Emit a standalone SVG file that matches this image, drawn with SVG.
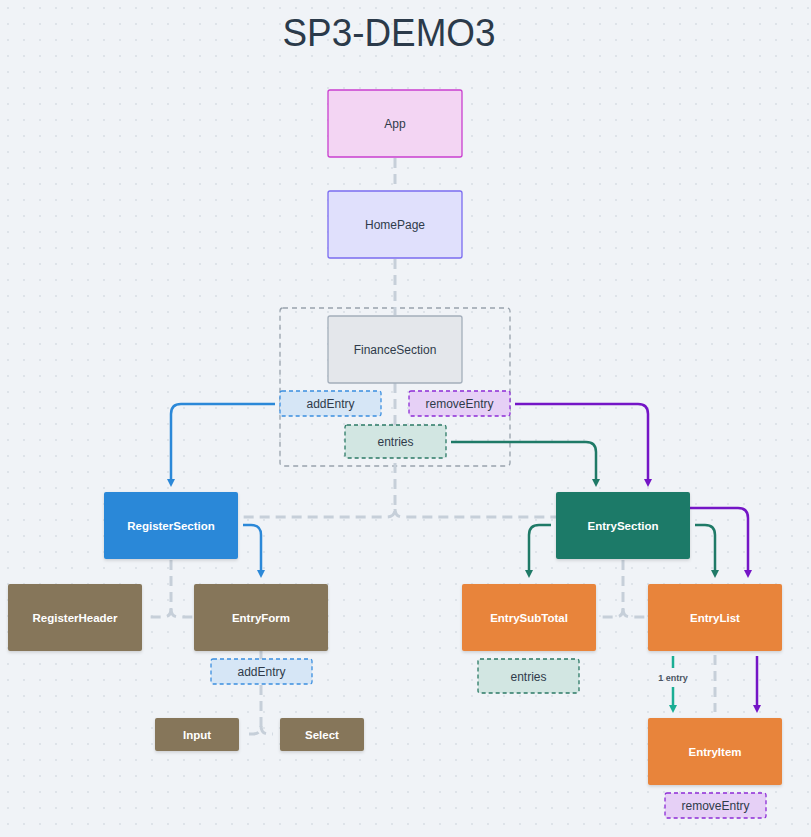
<svg xmlns="http://www.w3.org/2000/svg" width="811" height="837" viewBox="0 0 811 837">
<style>
.t{font-family:"Liberation Sans",Arial,sans-serif;font-size:12px;fill:#2f3b4a;text-anchor:middle;dominant-baseline:central}
.w{font-family:"Liberation Sans",Arial,sans-serif;font-size:11.5px;font-weight:bold;fill:#ffffff;text-anchor:middle;dominant-baseline:central}
.h{fill:none;stroke:#c6cfd9;stroke-width:3;stroke-dasharray:10 6}
.a{fill:none;stroke-width:2.5}
.tag{stroke-width:1.3;stroke-dasharray:4 3}
.brown{fill:#86765a}
.orange{fill:#e8843a}
</style>
<defs>
<pattern id="grid" width="16" height="16" patternUnits="userSpaceOnUse">
<circle cx="8" cy="8" r="0.9" fill="#d6dce3"/>
</pattern>
<filter id="sh" x="-10%" y="-10%" width="120%" height="130%">
<feDropShadow dx="0" dy="1.5" stdDeviation="1.5" flood-color="#000" flood-opacity="0.15"/>
</filter>
<marker id="mb" viewBox="0 0 10 10" refX="2.5" refY="5" markerWidth="3.2" markerHeight="3.2" orient="auto"><path d="M0,0 L10,5 L0,10 z" fill="#2b88d8"/></marker>
<marker id="mp" viewBox="0 0 10 10" refX="2.5" refY="5" markerWidth="3.2" markerHeight="3.2" orient="auto"><path d="M0,0 L10,5 L0,10 z" fill="#7415c6"/></marker>
<marker id="mg" viewBox="0 0 10 10" refX="2.5" refY="5" markerWidth="3.2" markerHeight="3.2" orient="auto"><path d="M0,0 L10,5 L0,10 z" fill="#1f7a67"/></marker>
<marker id="mt" viewBox="0 0 10 10" refX="2.5" refY="5" markerWidth="3.2" markerHeight="3.2" orient="auto"><path d="M0,0 L10,5 L0,10 z" fill="#1aae94"/></marker>
</defs>
<rect width="811" height="837" fill="#f0f3f7"/>
<rect width="811" height="837" fill="url(#grid)"/>
<text x="389" y="33" font-family="'Liberation Sans',Arial,sans-serif" font-size="38" fill="#2b3a4a" text-anchor="middle" dominant-baseline="central" textLength="213" lengthAdjust="spacingAndGlyphs">SP3-DEMO3</text>

<rect x="280" y="308" width="230" height="158" rx="3" fill="none" stroke="#98a2ad" stroke-width="1.3" stroke-dasharray="5 4"/>

<g id="connectors">
<path class="h" d="M395,158 V190"/>
<path class="h" d="M395,259 V315"/>
<path class="h" d="M395,383 V509 Q395,517 387,517 H238"/>
<path class="h" d="M395,509 Q395,517 403,517 H556"/>
<path class="h" d="M171,560 V609 Q171,617 163,617 H150"/>
<path class="h" d="M171,609 Q171,617 179,617 H194"/>
<path class="h" d="M623,560 V609 Q623,617 615,617 H601"/>
<path class="h" d="M623,609 Q623,617 631,617 H648"/>
<path class="h" d="M261,651 V659"/>
<path class="h" d="M261,685 V726 Q261,734 253,734 H249"/>
<path class="h" d="M261,726 Q261,734 269,734 H273"/>
<path class="h" d="M715,655 V712"/>
<path class="a" stroke="#2b88d8" marker-end="url(#mb)" d="M275,404 H181 Q171,404 171,414 V481"/>
<path class="a" stroke="#2b88d8" marker-end="url(#mb)" d="M243,525 H251 Q261,525 261,535 V572"/>
<path class="a" stroke="#7415c6" marker-end="url(#mp)" d="M515,404 H638 Q648,404 648,414 V481"/>
<path class="a" stroke="#1f7a67" marker-end="url(#mg)" d="M451,442 H586 Q596,442 596,452 V481"/>
<path class="a" stroke="#1f7a67" marker-end="url(#mg)" d="M551,525 H539 Q529,525 529,535 V572"/>
<path class="a" stroke="#1f7a67" marker-end="url(#mg)" d="M695,525 H705 Q715,525 715,535 V572"/>
<path class="a" stroke="#7415c6" marker-end="url(#mp)" d="M690,508 H738 Q748,508 748,518 V572"/>
<path class="a" stroke="#1aae94" d="M673,656 V668"/>
<path class="a" stroke="#1aae94" marker-end="url(#mt)" d="M673,687 V707"/>
<text x="673" y="678" font-family="'Liberation Sans',Arial,sans-serif" font-size="9" font-weight="bold" fill="#4a5563" text-anchor="middle" dominant-baseline="central">1 entry</text>
<path class="a" stroke="#7415c6" marker-end="url(#mp)" d="M757,656 V707"/>
</g>

<g id="App"><rect x="328" y="90" width="134" height="67" rx="2" fill="#f3d5f3" stroke="#c93fcf" stroke-width="1.3"/><text class="t" x="395" y="124">App</text></g>
<g id="HomePage"><rect x="328" y="191" width="134" height="67" rx="2" fill="#e0e0fc" stroke="#7a6cf0" stroke-width="1.3"/><text class="t" x="395" y="225">HomePage</text></g>
<g id="FinanceSection"><rect x="328" y="316" width="134" height="67" rx="2" fill="#e4e7eb" stroke="#a3aebb" stroke-width="1.3"/><text class="t" x="395" y="350">FinanceSection</text></g>
<g id="tag-addEntry-1"><rect class="tag" x="280" y="391" width="101" height="25" rx="2" fill="#d6e6f6" stroke="#3a8fe0"/><text class="t" x="330.5" y="404">addEntry</text></g>
<g id="tag-removeEntry-1"><rect class="tag" x="409" y="391" width="101" height="25" rx="2" fill="#e6d0f6" stroke="#8d2bd6"/><text class="t" x="459.5" y="404">removeEntry</text></g>
<g id="tag-entries-1"><rect class="tag" x="345" y="425" width="101" height="33" rx="2" fill="#d2e6e2" stroke="#2b7a66"/><text class="t" x="395.5" y="442">entries</text></g>

<g id="RegisterSection"><rect x="104" y="492" width="134" height="67" rx="2" fill="#2b88d8" filter="url(#sh)"/><text class="w" x="171" y="526">RegisterSection</text></g>
<g id="EntrySection"><rect x="556" y="492" width="134" height="67" rx="2" fill="#1f7a67" filter="url(#sh)"/><text class="w" x="623" y="526">EntrySection</text></g>

<g id="RegisterHeader"><rect class="brown" x="8" y="584" width="134" height="67" rx="2" filter="url(#sh)"/><text class="w" x="75" y="618">RegisterHeader</text></g>
<g id="EntryForm"><rect class="brown" x="194" y="584" width="134" height="67" rx="2" filter="url(#sh)"/><text class="w" x="261" y="618">EntryForm</text></g>
<g id="tag-addEntry-2"><rect class="tag" x="211" y="659" width="101" height="25" rx="2" fill="#d6e6f6" stroke="#3a8fe0"/><text class="t" x="261.5" y="672">addEntry</text></g>
<g id="Input"><rect class="brown" x="155" y="718" width="84" height="33" rx="2" filter="url(#sh)"/><text class="w" x="197" y="735">Input</text></g>
<g id="Select"><rect class="brown" x="280" y="718" width="84" height="33" rx="2" filter="url(#sh)"/><text class="w" x="322" y="735">Select</text></g>

<g id="EntrySubTotal"><rect class="orange" x="462" y="584" width="134" height="67" rx="2" filter="url(#sh)"/><text class="w" x="529" y="618">EntrySubTotal</text></g>
<g id="tag-entries-2"><rect class="tag" x="478" y="659" width="101" height="34" rx="2" fill="#d2e6e2" stroke="#2b7a66"/><text class="t" x="528.5" y="677">entries</text></g>
<g id="EntryList"><rect class="orange" x="648" y="584" width="134" height="67" rx="2" filter="url(#sh)"/><text class="w" x="715" y="618">EntryList</text></g>
<g id="EntryItem"><rect class="orange" x="648" y="718" width="134" height="67" rx="2" filter="url(#sh)"/><text class="w" x="715" y="752">EntryItem</text></g>
<g id="tag-removeEntry-2"><rect class="tag" x="665" y="793" width="101" height="25" rx="2" fill="#e6d0f6" stroke="#8d2bd6"/><text class="t" x="715.5" y="806">removeEntry</text></g>
</svg>
